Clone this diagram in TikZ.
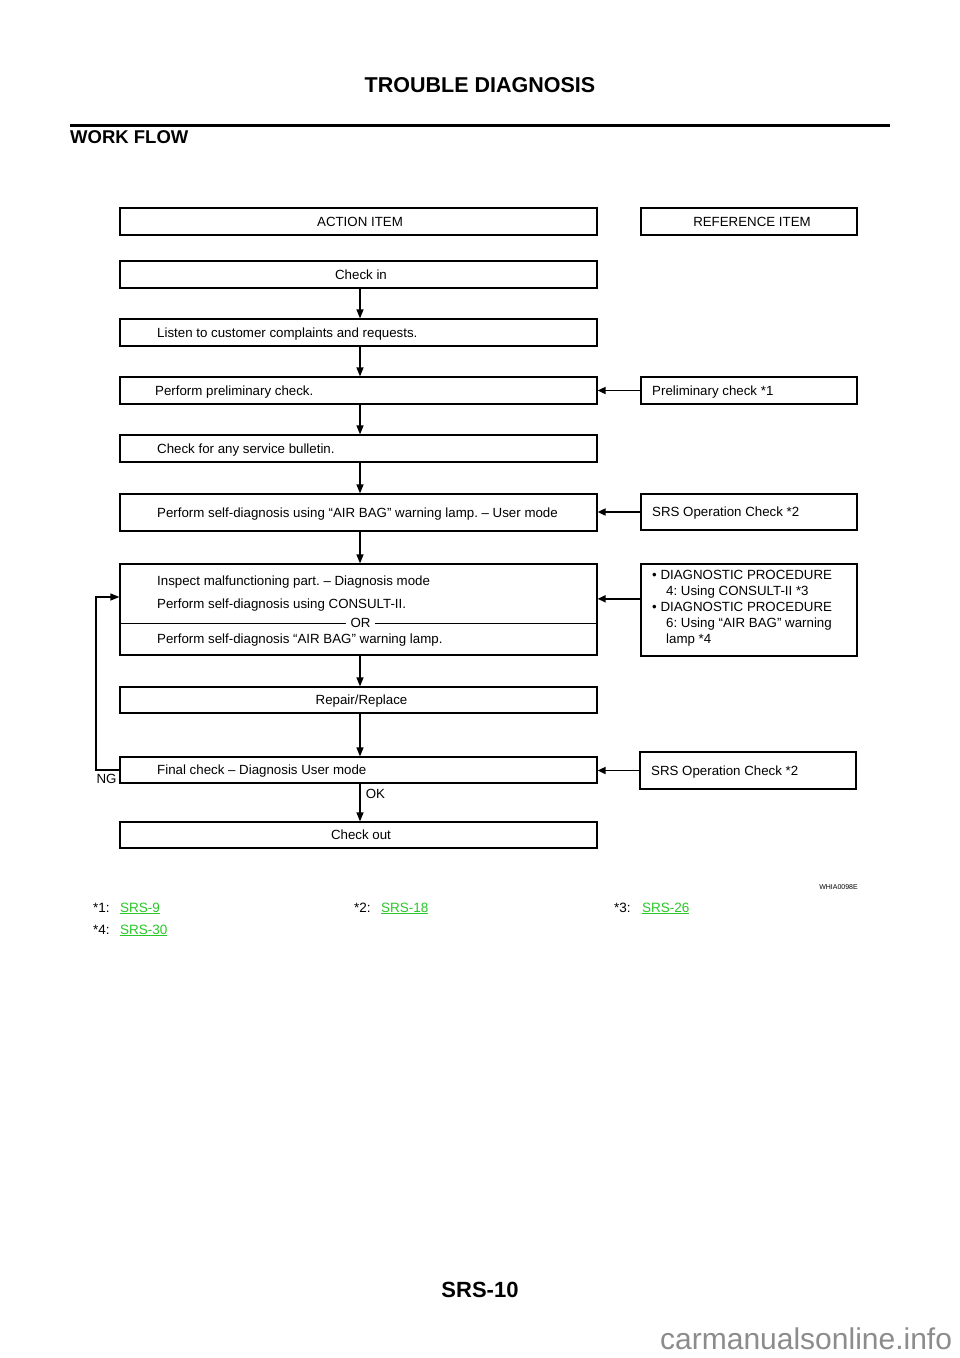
\documentclass[tikz,border=0pt]{standalone}
\usepackage{fontspec}
\setmainfont{Liberation Sans}
\usetikzlibrary{arrows.meta,calc}
\definecolor{linkgreen}{RGB}{40,200,40}
\definecolor{wmgray}{RGB}{140,140,140}
\frenchspacing
\begin{document}
\begin{tikzpicture}[x=1pt,y=-1pt,
  box/.style={draw=black,line width=1.2pt,rectangle,inner sep=0pt,minimum width=477pt,minimum height=27pt},
  refbox/.style={draw=black,line width=1.2pt,rectangle,inner sep=0pt,minimum width=216pt,minimum height=27pt},
  headbox/.style={draw=black,line width=2.2pt,rectangle,inner sep=0pt,minimum height=27pt},
  lbl/.style={inner sep=0pt,text height=9.5pt,text depth=0pt,font=\fontsize{13.3}{16}\selectfont},
  arr/.style={line width=1.2pt,-{Triangle[length=9pt,width=7pt]}},
  harr/.style={line width=1.7pt,-{Triangle[length=8pt,width=7pt]}},
  foot/.style={inner sep=0pt,anchor=base west,font=\fontsize{13.5}{16}\selectfont},
  link/.style={foot,text=linkgreen}
]
\useasboundingbox[fill=white] (0,0) rectangle (960,1358);

% header
\node[inner sep=0pt,font=\fontsize{21.5}{24}\selectfont\bfseries] (title) at (480,85) {TROUBLE DIAGNOSIS};
\draw[line width=3pt] (70,125) coordinate (ruleL) -- (890,125) coordinate (ruleR);
\node[inner sep=0pt,anchor=west,font=\fontsize{18.5}{22}\selectfont\bfseries] (wf) at (70,137.5) {WORK FLOW};

\coordinate (axis) at (360,0);

% column heads
\node[headbox,minimum width=477pt] (action) at (358.5,221.5) {};
\node[lbl] (actiont) at (360,221.5) {ACTION ITEM};
\node[headbox,minimum width=216pt] (refhead) at (749,221.5) {};
\node[lbl] (refheadt) at (752,221.5) {REFERENCE ITEM};

% action boxes
\node[box] (checkin) at (358.5,274.5) {};
\node[lbl] (checkint) at (361,274.5) {Check in};

\node[box] (listen) at (358.5,332.5) {};
\node[lbl,anchor=west] (listent) at (157,332.5) {Listen to customer complaints and requests.};

\node[box] (prelim) at (358.5,390.5) {};
\node[lbl,anchor=west] (prelimt) at (155,390.5) {Perform preliminary check.};

\node[box] (bulletin) at (358.5,448.5) {};
\node[lbl,anchor=west] (bulletint) at (157,448.5) {Check for any service bulletin.};

\node[box,minimum height=37pt] (selfdiag) at (358.5,512.5) {};
\node[lbl,anchor=west] (selfdiagt) at (157,512.5) {Perform self-diagnosis using “AIR BAG” warning lamp. – User mode};

\node[box,minimum height=91pt] (inspect) at (358.5,609.5) {};
\node[lbl,anchor=west] (inspt1) at (157,581) {Inspect malfunctioning part. – Diagnosis mode};
\node[lbl,anchor=west] (inspt2) at (157,604) {Perform self-diagnosis using CONSULT-II.};
\draw[line width=1pt] (inspect.west |- 0,623) coordinate (divL) -- (inspect.east |- 0,623) coordinate (divR);
\node[lbl,fill=white,inner xsep=5pt] (ort) at (360.5,623) {OR};
\node[lbl,anchor=west] (inspt3) at (157,639) {Perform self-diagnosis “AIR BAG” warning lamp.};

\node[box,minimum height=26pt] (repair) at (358.5,700) {};
\node[lbl] (repairt) at (361.5,700) {Repair/Replace};

\node[box,minimum height=26pt] (final) at (358.5,770) {};
\node[lbl,anchor=west] (finalt) at (157,770) {Final check – Diagnosis User mode};

\node[box,minimum height=26pt] (checkout) at (358.5,835) {};
\node[lbl] (checkoutt) at (361,835) {Check out};

% reference boxes
\node[refbox] (refprelim) at (749,390.5) {};
\node[lbl,anchor=west] (refprelimt) at (652,390.5) {Preliminary check *1};

\node[refbox,minimum height=36pt] (refsrs1) at (749,512) {};
\node[lbl,anchor=west] (refsrs1t) at (652,512) {SRS Operation Check *2};

\node[refbox,minimum height=92pt] (refdiag) at (749,610) {};
\node[inner sep=0pt,anchor=north west,align=left,font=\fontsize{13.3}{15.8}\selectfont] (refdiagt) at (652,570.5)
  {• DIAGNOSTIC PROCEDURE\\\hspace*{14pt}4: Using CONSULT-II *3\\• DIAGNOSTIC PROCEDURE\\\hspace*{14pt}6: Using “AIR BAG” warning\\\hspace*{14pt}lamp *4};

\node[refbox,minimum height=37pt] (refsrs2) at (748,770.5) {};
\node[lbl,anchor=west] (refsrs2t) at (651,770.5) {SRS Operation Check *2};

% vertical flow
\draw[arr] (checkin.south -| axis) -- (listen.north -| axis);
\draw[arr] (listen.south -| axis) -- (prelim.north -| axis);
\draw[arr] (prelim.south -| axis) -- (bulletin.north -| axis);
\draw[arr] (bulletin.south -| axis) -- (selfdiag.north -| axis);
\draw[arr] (selfdiag.south -| axis) -- (inspect.north -| axis);
\draw[arr] (inspect.south -| axis) -- (repair.north -| axis);
\draw[arr] (repair.south -| axis) -- (final.north -| axis);
\draw[arr] (final.south -| axis) -- (checkout.north -| axis);
\node[lbl] (okt) at (375.5,794) {OK};

% reference arrows
\draw[harr] (refprelim.west) -- (prelim.east);
\draw[harr] (refsrs1.west) -- (refsrs1.west -| selfdiag.east);
\coordinate (rdA) at ($(refdiag.north west)!0.38!(refdiag.south west)$);
\draw[harr] (rdA) -- (rdA -| inspect.east);
\draw[harr] (refsrs2.west) -- (refsrs2.west -| final.east);

% NG loop
\coordinate (fb) at (96,597);
\draw[arr] (final.west) -| (fb) -- (fb -| inspect.west);
\node[lbl] (ngt) at (106.5,779) {NG};

% footer
\node[inner sep=0pt,anchor=east,font=\fontsize{7}{8}\selectfont] (code) at (858,887) {WHIA0098E};
\node[foot] (f1) at (93,912) {*1:};
\node[link] (l1) at (120,912) {\underline{SRS-9}};
\node[foot] (f2) at (354,912) {*2:};
\node[link] (l2) at (381,912) {\underline{SRS-18}};
\node[foot] (f3) at (614,912) {*3:};
\node[link] (l3) at (642,912) {\underline{SRS-26}};
\node[foot] (f4) at (93,934) {*4:};
\node[link] (l4) at (120,934) {\underline{SRS-30}};

\node[inner sep=0pt,font=\fontsize{22}{26}\selectfont\bfseries] (page) at (480,1290) {SRS-10};
\node[inner sep=0pt,anchor=base west,text=wmgray,font=\fontsize{30}{34}\selectfont] (wm) at (660,1349) {carmanualsonline.info};
\end{tikzpicture}
\end{document}
